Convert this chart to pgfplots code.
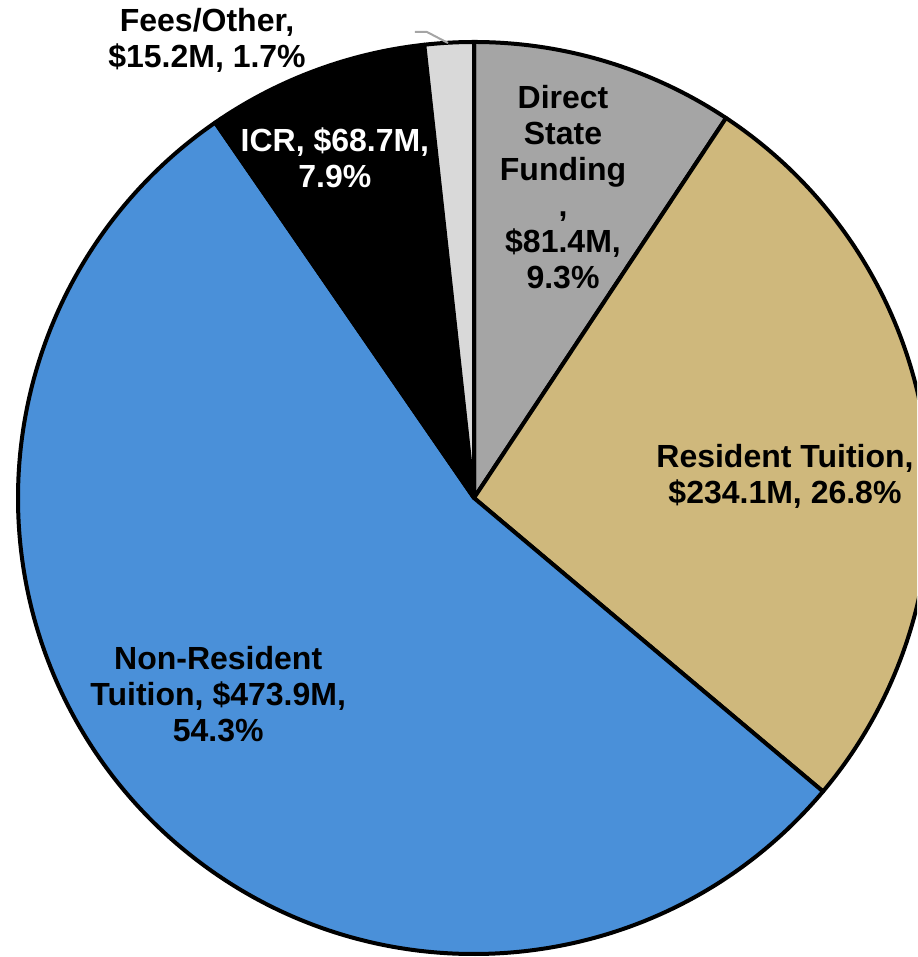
\documentclass[border=0pt]{standalone}
\usepackage{pgfplots}
\pgfplotsset{compat=1.18}
\usepackage{fontspec}
\setmainfont{Liberation Sans}
\definecolor{cgray}{HTML}{A5A5A5}
\definecolor{ctan}{HTML}{CFB87C}
\definecolor{cblue}{HTML}{4A90D9}
\definecolor{clgray}{HTML}{D9D9D9}
\begin{document}
\begin{tikzpicture}[x=0.5pt,y=0.5pt]
\useasboundingbox (0,0) rectangle (917,957);
\clip (0,0) rectangle (917,957);
\begin{axis}[at={(0,0)},anchor=south west,x=228pt,y=228pt,
  xmin=-1.03947,xmax=0.97149,ymin=-1.00658,ymax=1.09211,
  hide axis,clip=false]
\pgfmathsetmacro\tot{81.4+234.1+473.9+68.7+15.2}
\pgfmathsetmacro\astart{90}
\pgfplotsforeachungrouped \v/\col in {81.4/cgray,234.1/ctan,473.9/cblue,68.7/black,15.2/clgray}{%
  \pgfmathsetmacro\sweep{\v/\tot*360}%
  \pgfmathsetmacro\aend{\astart-\sweep}%
  \edef\doit{\noexpand\filldraw[fill=\col,draw=black,line width=2pt,line join=round] (axis cs:0,0) -- (axis cs:{cos(\astart)},{sin(\astart)}) arc[start angle=\astart,end angle=\aend,radius=228pt] -- cycle;}%
  \doit
  \global\let\astart\aend
}
\draw[color=cgray,line width=1pt] (axis cs:-0.1294,1.0219) -- (axis cs:-0.1031,1.0219) -- (axis cs:-0.0570,0.9978);
\begin{scope}[every node/.style={font=\fontsize{16}{18}\bfseries\selectfont,align=center,inner sep=0pt}]
\node at (axis cs:0.1952,0.682) {Direct\\State\\Funding\\,\\\$81.4M,\\9.3\%};
\node at (axis cs:0.682,0.048) {Resident Tuition,\\\$234.1M, 26.8\%};
\node at (axis cs:-0.561,-0.430) {Non-Resident\\Tuition, \$473.9M,\\54.3\%};
\node[text=white] at (axis cs:-0.305,0.746) {ICR, \$68.7M,\\7.9\%};
\node at (axis cs:-0.5855,1.004) {Fees/Other,\\\$15.2M, 1.7\%};
\end{scope}
\end{axis}
\end{tikzpicture}
\end{document}
